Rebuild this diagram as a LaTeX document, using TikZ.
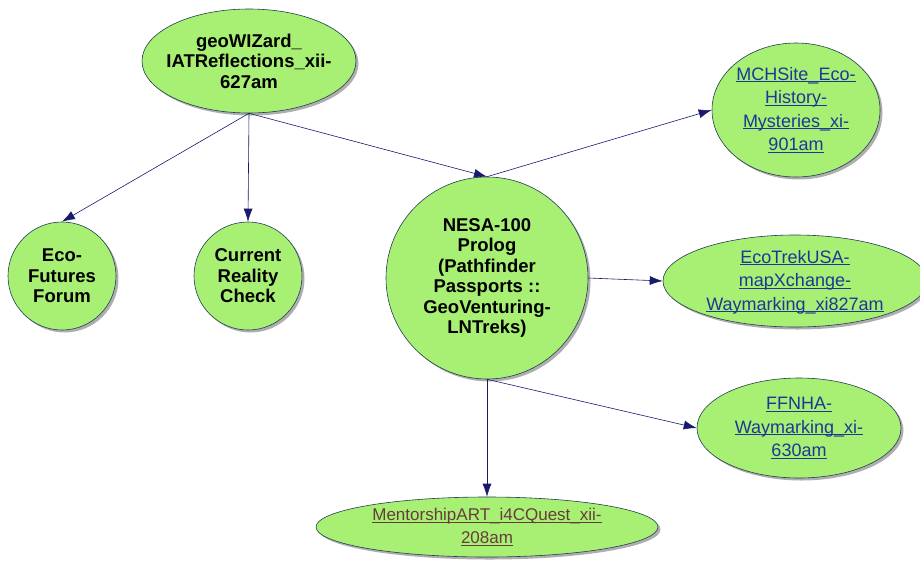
\documentclass[tikz,border=0pt]{standalone}
\usepackage{fontspec}
\setmainfont{Liberation Sans}
\usepackage{tikz}
\usetikzlibrary{arrows.meta,shapes.geometric,shadows}

\definecolor{bubble}{RGB}{168,240,116}
\definecolor{rim}{RGB}{35,60,85}
\definecolor{wire}{RGB}{25,25,110}
\definecolor{weblink}{RGB}{30,55,150}
\definecolor{visited}{RGB}{105,60,60}

\newcommand{\lnk}[1]{\underline{\raisebox{0pt}[\height][0pt]{#1}}}

\begin{document}
\begin{tikzpicture}[x=1pt, y=-1pt,
        blob/.style={shape=ellipse, draw=rim, fill=bubble, line width=0.6pt, inner sep=-40pt,
            drop shadow={shadow xshift=2.5pt, shadow yshift=-2.5pt, fill=black!45, opacity=0.7},
            align=center, font=\fontsize{18.5}{20.5}\selectfont\bfseries},
        web/.style={blob, font=\fontsize{18}{23.5}\selectfont, text=weblink},
        link/.style={line width=0.6pt, color=wire, -{Latex[length=13pt, width=9pt]}}]
            \useasboundingbox (0, 0) rectangle (920, 560);

            \node[blob, minimum width=214, minimum height=104] (A) at (249, 61) {geoWIZard\_\\IATReflections\_xii-\\627am};
            \node[blob, minimum width=108, minimum height=108] (B) at (62, 276) {Eco-\\Futures\\Forum};
            \node[blob, minimum width=108, minimum height=108] (C) at (248, 276) {Current\\Reality\\Check};
            \node[blob, minimum width=202, minimum height=202] (D) at (487, 278) {NESA-100\\Prolog\\(Pathfinder\\Passports ::\\GeoVenturing-\\LNTreks)};
            \node[web, minimum width=168, minimum height=134] (E) at (796, 110) {\lnk{MCHSite\_Eco-}\\\lnk{History-}\\\lnk{Mysteries\_xi-}\\\lnk{901am}};
            \node[web, minimum width=264, minimum height=92] (F) at (795, 281) {\lnk{EcoTrekUSA-}\\\lnk{mapXchange-}\\\lnk{Waymarking\_xi827am}};
            \node[web, minimum width=204, minimum height=100] (G) at (799, 428) {\lnk{FFNHA-}\\\lnk{Waymarking\_xi-}\\\lnk{630am}};
            \node[web, text=visited, font=\fontsize{17}{23.5}\selectfont, minimum width=342, minimum height=60] (H) at (487, 527) {\lnk{MentorshipART\_i4CQuest\_xii-}\\\lnk{208am}};

            \path [link] (A.south) edge (B.north);
            \path [link] (A.south) edge (C.north);
            \path [link] (A.south) edge (D.north);

            \path [link] (D.north) edge (E.west);
            \path [link] (D.east) edge (F.west);
            \path [link] (D.south) edge (G.west);
            \path [link] (D.south) edge (H.north);
        \end{tikzpicture}
\end{document}
